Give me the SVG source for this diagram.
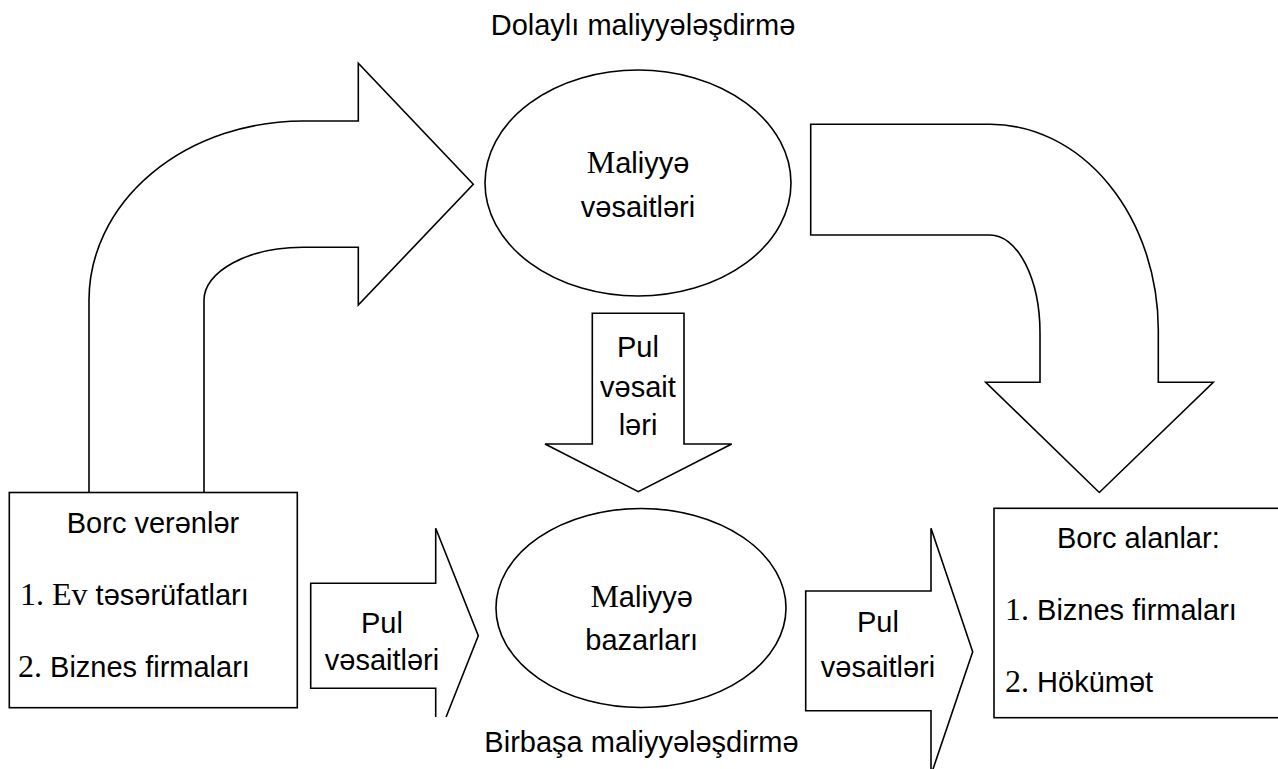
<svg xmlns="http://www.w3.org/2000/svg" width="1278" height="769" viewBox="0 0 1278 769">
<style>
.shape{fill:#fff;stroke:#000;stroke-width:1.6;stroke-linejoin:miter}
.t{font-family:"Liberation Sans",Arial,sans-serif;font-size:29px;fill:#000}
.c{text-anchor:middle}
.s{font-family:"Liberation Serif","Times New Roman",serif;font-size:32px}
</style>
<rect width="1278" height="769" fill="#fff"/>
<g id="connectors">
  <path class="shape" d="M89 492.7 L89 300 A214 179 0 0 1 303 121 L358.3 121 L358.3 63.3 L473.3 184.3 L358.3 305 L358.3 247.3 L303 247.3 A99 53 0 0 0 204 300 L204 492.7 Z"/>
  <path class="shape" d="M810.7 124.3 L990 124.3 A168 206 0 0 1 1158.3 330 L1158.3 382.3 L1213.3 382.3 L1099.3 492.5 L985.7 382.3 L1040 382.3 L1040 333 A50 98 0 0 0 990 235 L810.7 235 Z"/>
  <path class="shape" d="M592.3 313.3 L684 313.3 L684 444 L731.7 444 L638.3 491.7 L545 444 L592.3 444 Z"/>
  <path class="shape" d="M446.1 717 L478.3 635.7 L435.7 528.3 L435.7 583.3 L310.7 583.3 L310.7 688.3 L435.7 688.3 L435.7 717"/>
  <path class="shape" d="M805.7 591 L931 591 L931 528.3 L972.7 651.7 L931 775 L931 710.7 L805.7 710.7 Z"/>
  <text class="t c" x="638" y="356.7">Pul</text>
  <text class="t c" x="638" y="396.7">vəsait</text>
  <text class="t c" x="638" y="435">ləri</text>
  <text class="t c" x="382" y="633">Pul</text>
  <text class="t c" x="382" y="670">vəsaitləri</text>
  <text class="t c" x="878" y="631.7">Pul</text>
  <text class="t c" x="878" y="676.7">vəsaitləri</text>
</g>
<g id="title-top"><text class="t c" x="643" y="35">Dolaylı maliyyələşdirmə</text></g>
<g id="title-bottom"><text class="t c" x="641.5" y="751.7">Birbaşa maliyyələşdirmə</text></g>
<g id="maliyye-vesaitleri">
  <ellipse class="shape" cx="638" cy="183" rx="153" ry="113"/>
  <text class="t c" x="638" y="173"><tspan class="s">M</tspan>aliyyə</text>
  <text class="t c" x="638" y="217">vəsaitləri</text>
</g>
<g id="maliyye-bazarlari">
  <ellipse class="shape" cx="641" cy="608" rx="145" ry="99.5"/>
  <text class="t c" x="641.7" y="606.7"><tspan class="s">M</tspan>aliyyə</text>
  <text class="t c" x="641.7" y="650">bazarları</text>
</g>
<g id="borc-verenler">
  <rect class="shape" x="9.3" y="492.5" width="288" height="215.2"/>
  <text class="t c" x="153" y="533.3">Borc verənlər</text>
  <text class="t" x="20" y="605"><tspan class="s">1. Ev</tspan> təsərüfatları</text>
  <text class="t" x="18" y="676.7"><tspan class="s">2.</tspan> Biznes firmaları</text>
</g>
<g id="borc-alanlar">
  <rect class="shape" x="994" y="508.3" width="292" height="209.4"/>
  <text class="t c" x="1138.3" y="548.3">Borc alanlar:</text>
  <text class="t" x="1005" y="620"><tspan class="s">1.</tspan> Biznes firmaları</text>
  <text class="t" x="1005" y="691.7"><tspan class="s">2.</tspan> Hökümət</text>
</g>
</svg>
